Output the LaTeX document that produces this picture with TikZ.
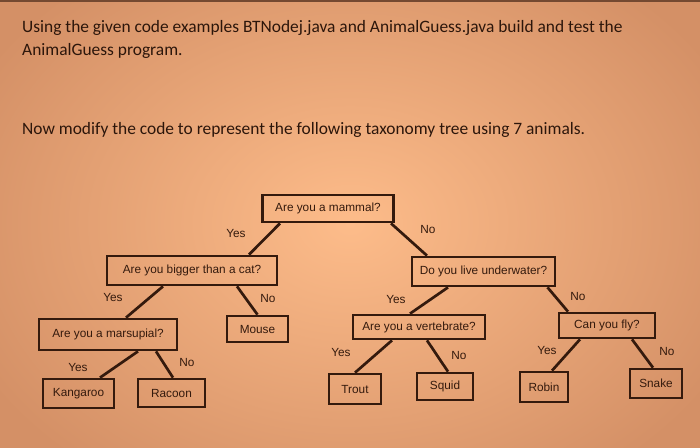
\documentclass[tikz,border=0pt]{standalone}
\usepackage{fontspec}
\setmainfont{Liberation Sans}
\newfontfamily\titlefont{Carlito}
\definecolor{inkc}{RGB}{52,26,13}
\definecolor{bgin}{RGB}{253,188,138}
\definecolor{bgout}{RGB}{212,144,102}
\begin{document}
\begin{tikzpicture}[x=1pt,y=-1pt,
  box/.style={draw=inkc,line width=2.7pt,inner sep=0pt,text=inkc,font=\fontsize{11.8}{13}\selectfont},
  lbl/.style={text=inkc,inner sep=0pt,font=\fontsize{11.8}{13}\selectfont},
  edge/.style={draw=inkc,line width=2.7pt},
  ttl/.style={text=inkc!85!black,anchor=base west,inner sep=0pt,font=\titlefont\fontsize{17.4}{20}\selectfont}]
\useasboundingbox (0,0) rectangle (700,447);
\shade[inner color=bgin,outer color=bgout] (-70,-90) rectangle (770,537);
\fill[inkc!60!bgout] (0,0) rectangle (700,1.5);
% title text
\node[ttl] (t1) at (22,32.5) {Using the given code examples BTNodej.java and AnimalGuess.java build and test the};
\node[ttl] (t2) at (22,55.5) {AnimalGuess program.};
\node[ttl] (t3) at (22,134) {Now modify the code to represent the following taxonomy tree using 7 animals.};
% boxes
\node[box,minimum width=131pt,minimum height=27pt] (mammal) at (328,208.5) {Are you a mammal?};
\node[box,minimum width=170pt,minimum height=29pt] (big) at (192,270.5) {Are you bigger than a cat?};
\node[box,minimum width=143pt,minimum height=29pt] (water) at (483.5,271.5) {Do you live underwater?};
\node[box,minimum width=138pt,minimum height=31pt] (mars) at (108,334.5) {Are you a marsupial?};
\node[box,minimum width=61pt,minimum height=26pt] (mouse) at (257.5,329) {Mouse};
\node[box,minimum width=71pt,minimum height=29pt] (kang) at (78.5,393.5) {Kangaroo};
\node[box,minimum width=67pt,minimum height=28pt] (racoon) at (171.5,393) {Racoon};
\node[box,minimum width=132pt,minimum height=24pt] (vert) at (419,327) {Are you a vertebrate?};
\node[box,minimum width=96pt,minimum height=25pt] (fly) at (607,325.5) {Can you fly?};
\node[box,minimum width=52pt,minimum height=30pt] (trout) at (355,389) {Trout};
\node[box,minimum width=56pt,minimum height=27pt] (squid) at (445,386.5) {Squid};
\node[box,minimum width=48pt,minimum height=30pt] (robin) at (544,387) {Robin};
\node[box,minimum width=52pt,minimum height=29pt] (snake) at (656,383.5) {Snake};
% edges
\draw[edge] ([xshift=-48pt]mammal.south) -- ([xshift=57pt]big.north);
\draw[edge] ([xshift=63pt]mammal.south) -- ([xshift=-56.5pt]water.north);
\draw[edge] ([xshift=-29pt]big.south) -- ([xshift=18pt]mars.north);
\draw[edge] ([xshift=45pt]big.south) -- ([xshift=0pt]mouse.north);
\draw[edge] ([xshift=30pt]mars.south) -- ([xshift=21.5pt]kang.north);
\draw[edge] ([xshift=48pt]mars.south) -- ([xshift=1.5pt]racoon.north);
\draw[edge] ([xshift=-35.5pt]water.south) -- ([xshift=-9pt]vert.north);
\draw[edge] ([xshift=64pt]water.south) -- ([xshift=-39pt]fly.north);
\draw[edge] ([xshift=-27pt]vert.south) -- ([xshift=0pt]trout.north);
\draw[edge] ([xshift=8pt]vert.south) -- ([xshift=3pt]squid.north);
\draw[edge] ([xshift=-27pt]fly.south) -- ([xshift=8pt]robin.north);
\draw[edge] ([xshift=25pt]fly.south) -- ([xshift=-3pt]snake.north);
% labels
\node[lbl] (l1) at (236,233) {Yes};
\node[lbl] (l2) at (428,229) {No};
\node[lbl] (l3) at (113,297) {Yes};
\node[lbl] (l4) at (268,298) {No};
\node[lbl] (l5) at (396,299) {Yes};
\node[lbl] (l6) at (578,296) {No};
\node[lbl] (l7) at (78,367) {Yes};
\node[lbl] (l8) at (187,362) {No};
\node[lbl] (l9) at (341,352) {Yes};
\node[lbl] (l10) at (459,355) {No};
\node[lbl] (l11) at (547,350) {Yes};
\node[lbl] (l12) at (667,351) {No};
\end{tikzpicture}
\end{document}
